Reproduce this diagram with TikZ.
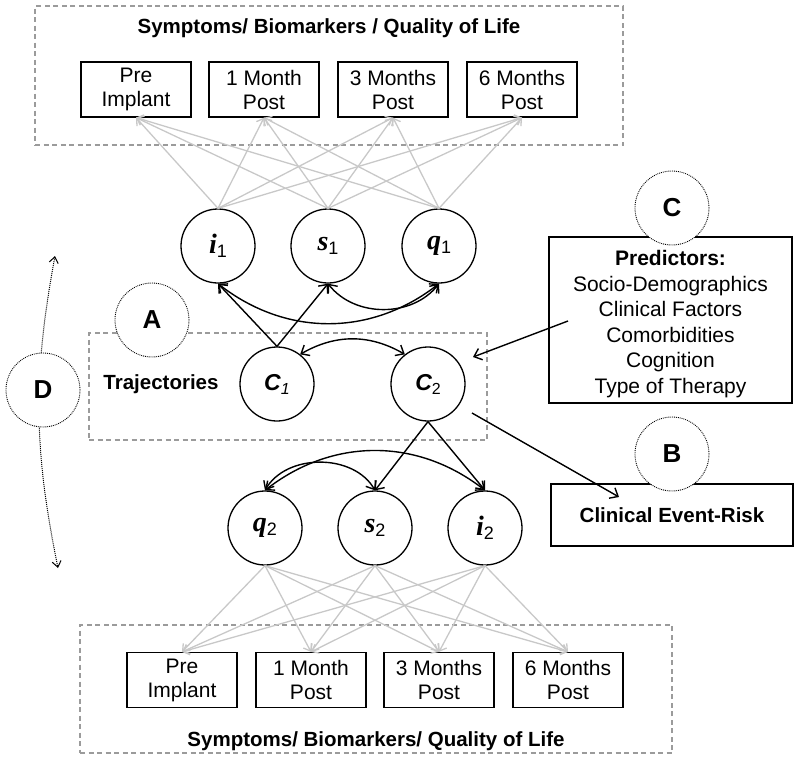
\documentclass[tikz,border=0pt]{standalone}
\usepackage{fontspec}
\setmainfont{Liberation Sans}
\newfontfamily\tnr{Liberation Serif}
\usetikzlibrary{arrows.meta}
\definecolor{framecol}{RGB}{155,155,155}
\definecolor{lightln}{RGB}{200,200,200}
\newcommand{\latv}[2]{{\fontsize{28}{28}\selectfont\tnr\bfseries\itshape #1}\raisebox{-4pt}{\fontsize{18}{18}\selectfont #2}}
\newcommand{\clsv}[1]{{\fontsize{23}{23}\selectfont\bfseries\itshape C}\raisebox{-4pt}{\fontsize{16}{16}\selectfont #1}}
\tikzset{
  grpframe/.style={draw=framecol, dash pattern=on 5pt off 3.5pt, line width=1.1pt, inner sep=0pt},
  obsbox/.style={draw, fill=white, line width=1.3pt, minimum width=110pt, minimum height=55pt, inner sep=0pt, align=center, font=\fontsize{21}{24}\selectfont},
  latc/.style={circle, draw, fill=white, line width=1.3pt, minimum size=74pt, inner sep=0pt},
  tagc/.style={circle, draw, fill=white, densely dotted, line width=0.9pt, minimum size=74pt, inner sep=0pt, font=\fontsize{26}{26}\selectfont\bfseries},
  ttl/.style={font=\fontsize{20.5}{24}\selectfont\bfseries},
  garrow/.style={draw=lightln, line width=1.3pt, -{Straight Barb[length=6pt,width=10pt]}},
  barrow/.style={line width=1.4pt, -{Straight Barb[length=7pt,width=12pt]}},
  bbarrow/.style={line width=1.4pt, {Straight Barb[length=7pt,width=12pt]}-{Straight Barb[length=7pt,width=12pt]}},
}
\begin{document}
\begin{tikzpicture}[x=1pt,y=1pt]
\useasboundingbox (0,0) rectangle (800,-761);
% group frames
\node[grpframe, minimum width=588pt, minimum height=139pt] (topgrp) at (329,-75.5) {};
\node[grpframe, minimum width=592pt, minimum height=128pt] (botgrp) at (376,-689) {};
\node[grpframe, minimum width=398pt, minimum height=107pt] (trajgrp) at (288,-386.5) {};
% titles
\node[ttl] (toptitle) at (329,-28) {Symptoms/ Biomarkers / Quality of Life};
\node[ttl] (bottitle) at (376,-741) {Symptoms/ Biomarkers/ Quality of Life};
\node[ttl] (trajtitle) at (161,-384) {Trajectories};
% observed boxes
\node[obsbox] (t1) at (136,-89.5) {Pre\\Implant};
\node[obsbox] (t2) at (264,-89.5) {1 Month\\Post};
\node[obsbox] (t3) at (393,-89.5) {3 Months\\Post};
\node[obsbox] (t4) at (522,-89.5) {6 Months\\Post};
\node[obsbox] (b1) at (182,-680) {Pre\\Implant};
\node[obsbox] (b2) at (311,-680) {1 Month\\Post};
\node[obsbox] (b3) at (439,-680) {3 Months\\Post};
\node[obsbox] (b4) at (568,-680) {6 Months\\Post};
% latent circles
\node[latc] (i1) at (218,-246) {\latv{i}{1}};
\node[latc] (s1) at (328,-246) {\latv{s}{1}};
\node[latc] (q1) at (439,-246) {\latv{q}{1}};
\node[latc] (C1) at (277,-384) {\clsv{\itshape 1}};
\node[latc] (C2) at (428,-384) {\clsv{2}};
\node[latc] (q2) at (265,-528) {\latv{q}{2}};
\node[latc] (s2) at (375,-528) {\latv{s}{2}};
\node[latc] (i2) at (485,-528) {\latv{i}{2}};
% gray loadings
\foreach \c in {i1,s1,q1}{\foreach \b in {t1,t2,t3,t4}{\draw[garrow] (\c.north) -- (\b.south);}}
\foreach \c in {q2,s2,i2}{\foreach \b in {b1,b2,b3,b4}{\draw[garrow] (\c.south) -- (\b.north);}}
% predictor and outcome boxes
\node[draw, line width=1.3pt, minimum width=243pt, minimum height=166pt, inner sep=0pt] (pred) at (670.5,-320) {};
\node[align=center, font=\fontsize{21}{25.6}\selectfont] (predtext) at (670.5,-324) {\textbf{Predictors:}\\Socio-Demographics\\Clinical Factors\\Comorbidities\\Cognition\\Type of Therapy};
\node[draw, line width=1.3pt, minimum width=242pt, minimum height=62pt, inner sep=0pt, font=\fontsize{20.5}{24}\selectfont\bfseries] (event) at (672,-515) {Clinical Event-Risk};
% black paths
\draw[barrow] (C1.north) -- (i1.south);
\draw[barrow] (C1.north) -- (s1.south);
\draw[bbarrow] (i1.south) to[bend right=38] (q1.south);
\draw[bbarrow] (s1.south) to[bend right=52] (q1.south);
\draw[bbarrow] (C1.52) to[bend left=30] (C2.128);
\draw[barrow] (C2.south) -- (s2.north);
\draw[barrow] (C2.south) -- (i2.north);
\draw[bbarrow] (q2.north) to[bend left=38] (i2.north);
\draw[bbarrow] (q2.north) to[bend left=60] (s2.north);
\coordinate (predout) at (568,-321);
\coordinate (c2in) at (473,-357);
\coordinate (c2out) at (472,-413);
\coordinate (eventin) at (619,-497);
\draw[barrow] (predout) -- (c2in);
\draw[barrow] (c2out) -- (eventin);
% D span arrow
\coordinate (dtop) at (55,-256);
\coordinate (dbot) at (58,-568);
\draw[densely dotted, line width=1pt, {Straight Barb[length=6pt,width=9pt,line width=1pt]}-{Straight Barb[length=6pt,width=9pt,line width=1pt]}] (dtop) to[bend right=11] (dbot);
% tag circles
\node[tagc] (tagA) at (152,-320) {A};
\node[tagc] (tagB) at (672,-454) {B};
\node[tagc] (tagC) at (672,-208) {C};
\node[tagc] (tagD) at (43,-390) {D};
\end{tikzpicture}
\end{document}
